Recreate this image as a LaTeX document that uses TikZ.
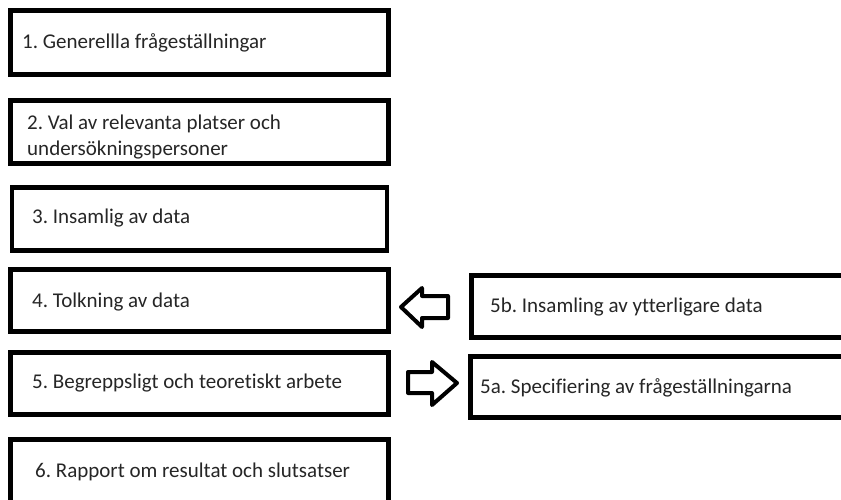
\documentclass[tikz,border=0pt]{standalone}
\usepackage{fontspec}
\setmainfont{Carlito}[Ligatures=NoCommon]
\frenchspacing
\begin{document}
\begin{tikzpicture}[x=1pt,y=-1pt,
  box/.style={draw=black,line width=4.5pt,fill=white,inner sep=0pt},
  lbl/.style={anchor=west,inner sep=0pt,font=\fontsize{21}{26}\selectfont,text=black!85},
  blockarrow/.style={draw=black,line width=4pt,fill=white,line join=round}]
\useasboundingbox (0,0) rectangle (841,499);
\clip (0,0) rectangle (841,499);
\node[box,minimum width=378pt,minimum height=64pt] (b1) at (199.5,42.5) {};
\node[box,minimum width=378pt,minimum height=63pt] (b2) at (199.5,132) {};
\node[box,minimum width=375pt,minimum height=63pt] (b3) at (199.5,219) {};
\node[box,minimum width=378pt,minimum height=62pt] (b4) at (199.5,300.5) {};
\node[box,minimum width=378pt,minimum height=62pt] (b5) at (199.5,383.5) {};
\node[box,minimum width=378pt,minimum height=66pt] (b6) at (199.5,472.5) {};
\node[box,minimum width=380pt,minimum height=62pt] (b5b) at (661.5,306.5) {};
\node[box,minimum width=380pt,minimum height=61pt] (b5a) at (660.5,387) {};
\node[lbl] (t1) at (22,43) {1. Generellla frågeställningar};
\node[lbl,align=left] (t2) at (27,137) {2. Val av relevanta platser och\\undersökningspersoner};
\node[lbl] (t3) at (32,218) {3. Insamlig av data};
\node[lbl] (t4) at (32,302) {4. Tolkning av data};
\node[lbl] (t5) at (32,383) {5. Begreppsligt och teoretiskt arbete};
\node[lbl] (t6) at (35,472) {6. Rapport om resultat och slutsatser};
\node[lbl] (t5b) at (490,307) {5b. Insamling av ytterligare data};
\node[lbl] (t5a) at (480,388) {5a. Specifiering av frågeställningarna};
\draw[blockarrow] (401,307) -- (422,288) -- (422,296) -- (448,296) -- (448,318) -- (422,318) -- (422,327) -- cycle;
\draw[blockarrow] (457,383) -- (432,362) -- (432,372) -- (408,372) -- (408,393) -- (432,393) -- (432,405) -- cycle;
\end{tikzpicture}
\end{document}
